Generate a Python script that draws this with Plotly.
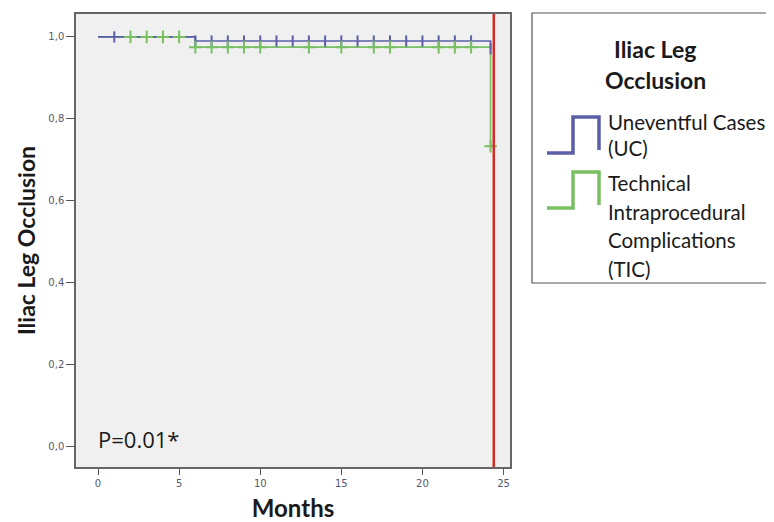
import plotly.graph_objects as go

# ---------------- data ----------------
uc_event_times = [0, 6, 24.2]
uc_survival = [1.0, 0.990, 0.971]
uc_censor_times = [1, 6, 7, 8, 9, 10, 11, 12, 13, 14, 15, 16, 17, 18, 19, 20, 21, 22, 23, 24.2]

tic_event_times = [0, 6, 24.2]
tic_survival = [1.0, 0.975, 0.733]
tic_censor_times = [2, 3, 4, 5, 6, 7, 8, 9, 10, 13, 15, 17, 18, 21, 22, 23, 24.2]

cutoff_month = 24.4
x_ticks = [0, 5, 10, 15, 20, 25]
y_ticks = [0.0, 0.2, 0.4, 0.6, 0.8, 1.0]
y_ticklabels = ["0,0", "0,2", "0,4", "0,6", "0,8", "1,0"]
p_text = "P=0.01*"
legend_title = ["Iliac Leg", "Occlusion"]
uc_label = ["Uneventful Cases", "(UC)"]
tic_label = ["Technical", "Intraprocedural", "Complications", "(TIC)"]

BLUE = "#5a5fa8"
GREEN = "#78c062"
RED = "#d42a22"

# page offset of the figure div (default body margin of the html page)
OFF = 8
W, H = 774 - OFF, 522 - OFF
# plot-area pixel geometry in page coordinates
L, R, T, B = 76, 510, 14, 467


def surv_at(times, surv, t):
    s = surv[0]
    for ti, si in zip(times, surv):
        if t >= ti:
            s = si
    return s


fig = go.Figure()

fig.add_trace(go.Scatter(x=tic_event_times, y=tic_survival, mode="lines",
                         line=dict(color=GREEN, width=1.6, shape="hv"),
                         name="TIC", showlegend=False, hoverinfo="skip"))
fig.add_trace(go.Scatter(x=uc_event_times, y=uc_survival, mode="lines",
                         line=dict(color=BLUE, width=1.6, shape="hv"),
                         name="UC", showlegend=False, hoverinfo="skip"))
fig.add_trace(go.Scatter(x=uc_censor_times,
                         y=[surv_at(uc_event_times, uc_survival, t) for t in uc_censor_times],
                         mode="markers",
                         marker=dict(symbol="line-ns", size=8, line=dict(color=BLUE, width=2)),
                         showlegend=False, hoverinfo="skip"))
fig.add_trace(go.Scatter(x=tic_censor_times,
                         y=[surv_at(tic_event_times, tic_survival, t) for t in tic_censor_times],
                         mode="markers",
                         marker=dict(symbol="cross-thin", size=9, line=dict(color=GREEN, width=2)),
                         showlegend=False, hoverinfo="skip"))

fig.add_shape(type="line", x0=cutoff_month, x1=cutoff_month, xref="x",
              y0=0, y1=1, yref="paper", line=dict(color=RED, width=2.5))

fig.add_annotation(x=0.0, y=0.0, xref="x", yref="y", text=p_text, showarrow=False,
                   xanchor="left", yanchor="middle", xshift=-2, yshift=7,
                   font=dict(family="Open Sans", size=22, color="#1a1a1a"))


def px(xp):
    return (xp - L) / (R - L)


def py(yp):
    return (B - yp) / (B - T)


fig.add_shape(type="rect", xref="paper", yref="paper",
              x0=px(532), x1=px(772), y0=py(283), y1=py(13),
              line=dict(color="#555555", width=1.2), fillcolor="white")

for i, line in enumerate(legend_title):
    fig.add_annotation(x=px(655), y=py(49 + i * 31), xref="paper", yref="paper",
                       text=f"<b>{line}</b>", showarrow=False, xanchor="center", yanchor="middle",
                       font=dict(family="Lato", size=23, color="#1a1a1a"))


def step_icon(y_low, y_high, color):
    xs = [547, 573, 573, 599, 599]
    ys = [y_low, y_low, y_high, y_high, y_low - 3]
    path = "M " + " L ".join(f"{px(a)},{py(b)}" for a, b in zip(xs, ys))
    fig.add_shape(type="path", path=path, xref="paper", yref="paper",
                  line=dict(color=color, width=3.5))


step_icon(153, 117, BLUE)
step_icon(208, 172, GREEN)

for i, line in enumerate(uc_label):
    fig.add_annotation(x=px(606), y=py(122 + i * 26), xref="paper", yref="paper",
                       text=line, showarrow=False, xanchor="left", yanchor="middle",
                       font=dict(family="Lato", size=20.5, color="#1a1a1a"))
for i, line in enumerate(tic_label):
    fig.add_annotation(x=px(606), y=py(183 + i * 28.5), xref="paper", yref="paper",
                       text=line, showarrow=False, xanchor="left", yanchor="middle",
                       font=dict(family="Lato", size=20.5, color="#1a1a1a"))

fig.update_layout(
    width=W, height=H,
    margin=dict(l=L - OFF, r=774 - R, t=T - OFF, b=522 - B),
    paper_bgcolor="white", plot_bgcolor="#f0f0f0",
    xaxis=dict(range=[-1.36, 25.4], tickvals=x_ticks, ticks="outside", ticklen=6,
               tickcolor="#555", showgrid=False, zeroline=False, automargin=False,
               showline=True, linecolor="#666", linewidth=1.5, mirror=True,
               tickfont=dict(family="DejaVu Sans", size=10, color="#55596e"),
               title=dict(text="<b>Months</b>", standoff=16,
                          font=dict(family="Lato", size=24, color="#1a1a1a"))),
    yaxis=dict(range=[-0.051, 1.056], tickvals=y_ticks, ticktext=y_ticklabels,
               ticks="outside", ticklen=8, tickcolor="#555", showgrid=False, zeroline=False,
               automargin=False,
               showline=True, linecolor="#666", linewidth=1.5, mirror=True,
               tickfont=dict(family="DejaVu Sans", size=10, color="#55596e"),
               title=dict(text="<b>Iliac Leg Occlusion</b>", standoff=6,
                          font=dict(family="Lato", size=23, color="#1a1a1a"))),
)

fig.write_html("out.html")
